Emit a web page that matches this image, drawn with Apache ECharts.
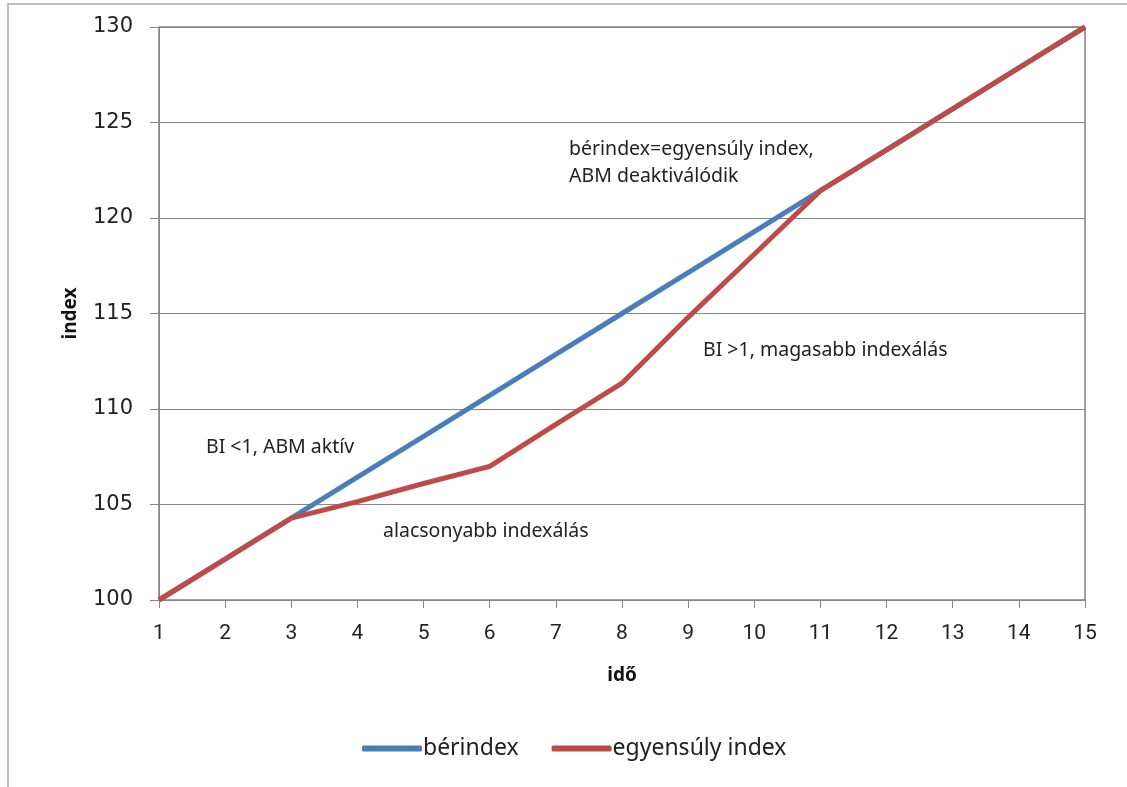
<!DOCTYPE html>
<html>
<head>
<meta charset="utf-8">
<script src="https://cdn.jsdelivr.net/npm/echarts@6/dist/echarts.min.js"></script>
<style>
  html, body { margin: 0; padding: 0; background: #ffffff; }
  #chart { width: 1127px; height: 787px; }
</style>
</head>
<body>
<div id="chart"></div>
<script>
// Time periods (idő)
const periods = ['1','2','3','4','5','6','7','8','9','10','11','12','13','14','15'];
// Wage index (bérindex)
const wageIndex = [100, 102.14, 104.29, 106.43, 108.57, 110.71, 112.86, 115, 117.14, 119.29, 121.43, 123.57, 125.71, 127.86, 130];
// Equilibrium index (egyensúly index)
const equilibriumIndex = [100, 102.14, 104.29, 105.15, 106.1, 107.0, 109.2, 111.35, 114.8, 118.1, 121.43, 123.57, 125.71, 127.86, 130];
// Series names shown in the legend
const seriesNames = ['bérindex', 'egyensúly index'];
// Text notes placed inside the plot
const notes = [
  { text: 'BI <1, ABM aktív', x: 206, y: 449 },
  { text: 'alacsonyabb indexálás', x: 383, y: 533 },
  { text: 'bérindex=egyensúly index,', x: 569, y: 151 },
  { text: 'ABM deaktiválódik', x: 569, y: 178 },
  { text: 'BI >1, magasabb indexálás', x: 703, y: 352 }
];

const chart = echarts.init(document.getElementById('chart'));
const noteFont = '"Noto Sans", sans-serif';
const nameFont = '"Noto Sans", "Liberation Sans", sans-serif';
const tickFont = 'Roboto, "Liberation Sans", sans-serif';

const option = {
  backgroundColor: '#ffffff',
  animation: false,
  grid: {
    left: 159, right: 42, top: 27, bottom: 187,
    show: true, borderColor: '#404040', borderWidth: 1, backgroundColor: 'transparent'
  },
  legend: {
    data: seriesNames,
    left: 362, top: 737,
    padding: 0,
    icon: 'roundRect',
    itemWidth: 60, itemHeight: 6,
    itemGap: 33,
    textStyle: { fontFamily: noteFont, fontSize: 23, color: '#222', padding: [0, 0, 0, -4] }
  },
  xAxis: {
    type: 'category',
    data: periods,
    boundaryGap: false,
    name: 'idő',
    nameLocation: 'middle',
    nameGap: 66,
    nameTextStyle: { fontFamily: nameFont, fontWeight: 'bold', fontSize: 19, color: '#111' },
    axisLine: { lineStyle: { color: '#868686', width: 1 } },
    axisTick: { show: true, alignWithLabel: true, length: 8, lineStyle: { color: '#868686' } },
    axisLabel: { fontFamily: tickFont, fontSize: 21, color: '#222', margin: 23 },
    splitLine: { show: false }
  },
  yAxis: {
    type: 'value',
    min: 100, max: 130, interval: 5,
    name: 'index',
    nameLocation: 'middle',
    nameGap: 79,
    nameRotate: 90,
    nameTextStyle: { fontFamily: nameFont, fontWeight: 'bold', fontSize: 19, color: '#111' },
    axisLine: { show: true, lineStyle: { color: '#868686', width: 1 } },
    axisTick: { show: true, length: 9, lineStyle: { color: '#868686' } },
    axisLabel: { fontFamily: '"DejaVu Sans", Verdana, sans-serif', fontSize: 21, color: '#222', margin: 26 },
    splitLine: { show: true, lineStyle: { color: '#868686', width: 1 } }
  },
  series: [
    {
      name: seriesNames[0],
      type: 'line',
      data: wageIndex,
      showSymbol: false,
      symbol: 'none',
      lineStyle: { color: '#4a7ebb', width: 5 },
      itemStyle: { color: '#4a7ebb' },
      z: 2
    },
    {
      name: seriesNames[1],
      type: 'line',
      data: equilibriumIndex,
      showSymbol: false,
      symbol: 'none',
      lineStyle: { color: '#be4b48', width: 5 },
      itemStyle: { color: '#be4b48' },
      z: 3
    }
  ],
  graphic: [
    {
      type: 'rect',
      shape: { x: 8, y: 4, width: 1200, height: 900 },
      style: { fill: 'none', stroke: '#a6a6a6', lineWidth: 1.5 },
      silent: true
    }
  ].concat(notes.map(n => ({
    type: 'text',
    left: n.x,
    top: n.y - 12,
    style: { text: n.text, fontFamily: noteFont, fontSize: 19.5, fill: '#222' },
    silent: true
  })))
};

chart.setOption(option);
</script>
</body>
</html>
